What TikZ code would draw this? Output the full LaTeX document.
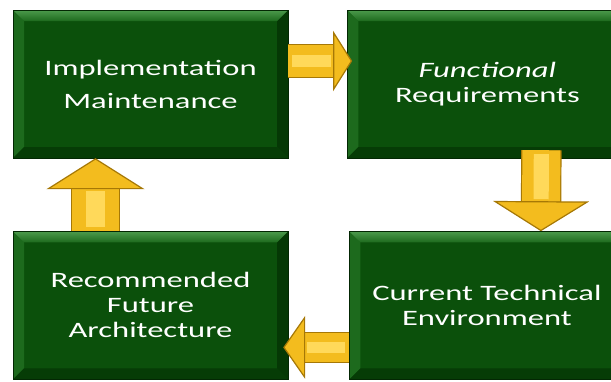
\documentclass[tikz,border=0pt]{standalone}
\usepackage{fontspec}
\newfontfamily\boxfont[FakeStretch=1.48]{Carlito}
\usetikzlibrary{positioning, arrows.meta}
\definecolor{boxgreen}{HTML}{0B500B}
\definecolor{bevellight}{HTML}{4C9A4C}
\definecolor{bevelmid}{HTML}{1D6A1D}
\definecolor{beveldark}{HTML}{053805}
\definecolor{arrowgold}{HTML}{F3BC1E}
\definecolor{arrowedge}{HTML}{A67806}
\definecolor{arrowlight}{HTML}{FFD95A}

\begin{document}
\begin{tikzpicture}[x=1pt,y=-1pt,node distance=59pt,
    stage/.style={draw=beveldark!70!black, fill=boxgreen, minimum width=275pt,
        minimum height=148pt, inner sep=0pt, align=center, text=white,
        font=\boxfont\fontsize{22}{25}\selectfont,
        path picture={
            \coordinate (pnw) at (path picture bounding box.north west);
            \coordinate (pne) at (path picture bounding box.north east);
            \coordinate (psw) at (path picture bounding box.south west);
            \coordinate (pse) at (path picture bounding box.south east);
            \fill[bevelmid] (pnw) -- ([shift={(11pt,-11pt)}]pnw) -- ([shift={(11pt,11pt)}]psw) -- (psw) -- cycle;
            \fill[beveldark] (pne) -- ([shift={(-11pt,-11pt)}]pne) -- ([shift={(-11pt,11pt)}]pse) -- (pse) -- cycle;
            \fill[beveldark!85!boxgreen] (psw) -- ([shift={(11pt,11pt)}]psw) -- ([shift={(-11pt,11pt)}]pse) -- (pse) -- cycle;
            \shade[top color=bevellight, bottom color=bevelmid] (pnw) -- (pne) -- ([shift={(-11pt,-11pt)}]pne) -- ([shift={(11pt,-11pt)}]pnw) -- cycle;
        }},
    flow/.style n args={3}{draw=arrowgold, line width=#1pt,
        -{Triangle[length=#2pt 0, width=#3pt 0, fill=arrowgold, color=arrowedge, line width=1.2pt]},
        preaction={draw=arrowedge, -, line width=#1pt+2.4pt, shorten >=#2pt-1pt},
        postaction={draw=arrowlight, -, line width=#1pt*0.4, shorten >=#2pt+2pt, shorten <=4pt}}]
    \useasboundingbox (0,0) rectangle (611,381);
    \clip (0,0) rectangle (611,381);

    \node[stage] (impl) at (150.5,84) {Implementation\\[8pt]Maintenance};
    \node[stage, minimum width=280pt] (func) [right=of impl] {\textit{Functional}\\Requirements};
    \node[stage] (arch) [below=73pt of impl] {Recommended\\Future\\Architecture};
    \node[stage] (env) [right=61pt of arch] {Current Technical\\Environment};

    \draw[flow={32}{19}{60}] ([yshift=23pt]impl.east) -- ([xshift=5pt,yshift=23pt]func.west);
    \draw[flow={38}{30}{96}] ([xshift=54pt,yshift=8pt]func.south) -- ([xshift=54pt]env.north);
    \draw[flow={29}{22}{63}] ([yshift=-42pt]env.west) -- ([xshift=-5pt,yshift=-42pt]arch.east);
    \draw[flow={47}{31}{98}] ([xshift=-55pt]arch.north) -- ([xshift=-55pt]impl.south);
\end{tikzpicture}
\end{document}
